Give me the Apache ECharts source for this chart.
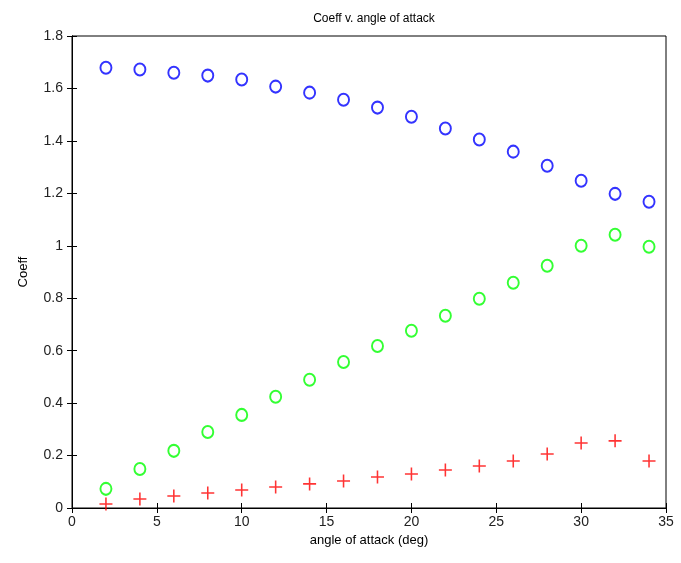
<!DOCTYPE html>
<html>
<head>
<meta charset="utf-8">
<script src="https://cdn.jsdelivr.net/npm/echarts@6/dist/echarts.min.js"></script>
<style>
html,body{margin:0;padding:0;background:#fff;}
#chart{width:681px;height:563px;}
</style>
</head>
<body>
<div id="chart"></div>
<script>
// Angle of attack (deg)
const angles = [2, 4, 6, 8, 10, 12, 14, 16, 18, 20, 22, 24, 26, 28, 30, 32, 34];
// Lift coefficient
const liftCoeff = [1.679, 1.672, 1.660, 1.649, 1.634, 1.607, 1.584, 1.557, 1.527, 1.492, 1.447, 1.405, 1.359, 1.305, 1.248, 1.198, 1.168];
// Drag coefficient
const dragCoeff = [0.073, 0.149, 0.218, 0.290, 0.355, 0.424, 0.489, 0.557, 0.618, 0.676, 0.733, 0.798, 0.859, 0.924, 1.000, 1.042, 0.996];
// Moment coefficient
const momentCoeff = [0.015, 0.034, 0.046, 0.057, 0.069, 0.080, 0.092, 0.103, 0.118, 0.130, 0.145, 0.160, 0.179, 0.206, 0.248, 0.256, 0.179];

const pair = ys => angles.map((a, i) => [a, ys[i]]);
const FONT = 'Liberation Sans, Arial, sans-serif';
const plusPath = 'path://M4.4,0h1.2v4.4h4.4v1.2h-4.4v4.4h-1.2v-4.4h-4.4v-1.2h4.4z';

const tickStyle = { show: true, inside: true, length: 5, lineStyle: { color: '#000', width: 1 } };
const lineStyle = { show: true, lineStyle: { color: '#000', width: 1 } };

const chart = echarts.init(document.getElementById('chart'));
chart.setOption({
  animation: false,
  backgroundColor: '#fff',
  title: {
    text: 'Coeff v. angle of attack',
    left: 369, top: 8, textAlign: 'center',
    textStyle: { fontFamily: FONT, fontSize: 12, fontWeight: 'normal', color: '#000' }
  },
  grid: { left: 72, right: 15, top: 36, bottom: 55, show: true, borderColor: '#000', borderWidth: 1 },
  xAxis: [{
    type: 'value', min: 0, max: 35, interval: 5,
    name: 'angle of attack (deg)', nameLocation: 'middle', nameGap: 22,
    nameTextStyle: { fontFamily: FONT, fontSize: 13, color: '#000' },
    axisLine: lineStyle, axisTick: tickStyle, splitLine: { show: false },
    axisLabel: { fontFamily: FONT, fontSize: 14, color: '#222', margin: 7 }
  }, {
    type: 'value', min: 0, max: 35, interval: 5, position: 'top',
    axisLine: lineStyle, axisTick: tickStyle, splitLine: { show: false },
    axisLabel: { show: false }
  }],
  yAxis: [{
    type: 'value', min: 0, max: 1.8, interval: 0.2,
    name: 'Coeff', nameLocation: 'middle', nameGap: 42, nameRotate: 90,
    nameTextStyle: { fontFamily: FONT, fontSize: 13, color: '#000' },
    axisLine: lineStyle, axisTick: tickStyle, splitLine: { show: false },
    axisLabel: { fontFamily: FONT, fontSize: 14, color: '#222', margin: 9,
      formatter: v => String(Math.round(v * 10) / 10) }
  }, {
    type: 'value', min: 0, max: 1.8, interval: 0.2, position: 'right',
    axisLine: lineStyle, axisTick: tickStyle, splitLine: { show: false },
    axisLabel: { show: false }
  }],
  series: [{
    name: 'CL', type: 'scatter', data: pair(liftCoeff),
    symbol: 'emptyCircle', symbolSize: [11, 12],
    itemStyle: { color: '#0000ff', borderColor: '#0000ff', borderWidth: 1.4 }
  }, {
    name: 'CD', type: 'scatter', data: pair(dragCoeff),
    symbol: 'emptyCircle', symbolSize: [11, 12],
    itemStyle: { color: '#00ff00', borderColor: '#00ff00', borderWidth: 1.4 }
  }, {
    name: 'CM', type: 'scatter', data: pair(momentCoeff),
    symbol: plusPath, symbolSize: 13,
    itemStyle: { color: '#ff0000' }
  }]
});
</script>
</body>
</html>
